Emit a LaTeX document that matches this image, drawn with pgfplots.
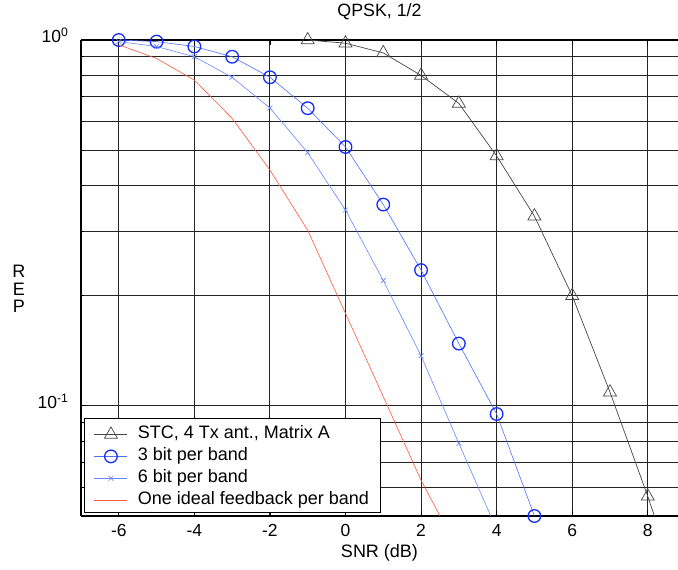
\documentclass[border=0pt]{standalone}
\usepackage{fontspec}
\setmainfont{Liberation Sans}
\usepackage{pgfplots}
\pgfplotsset{compat=1.18}
\definecolor{stc}{RGB}{70,70,70}
\definecolor{bitthree}{RGB}{20,45,255}
\definecolor{bitthreeline}{RGB}{80,110,255}
\definecolor{bitsix}{RGB}{105,135,255}
\definecolor{ideal}{RGB}{255,90,60}
\definecolor{gridc}{RGB}{35,35,35}
\begin{document}
\begin{tikzpicture}
\begin{axis}[
  name=ax,
  at={(0,0)}, anchor=south west,
  scale only axis, width=597pt, height=476pt,
  ymode=log, ymin=0.05, ymax=1,
  xmin=-7, xmax=8.8,
  axis x line=box, axis y line=left,
  y axis line style={-},
  axis line style={line width=1.2pt, black},
  xtick={-6,-4,-2,0,2,4,6,8},
  xticklabels={-6,-4,-2,0,2,4,6,8},
  ytick={0.1,1},
  yticklabels={10\textsuperscript{-1},10\textsuperscript{0}},
  minor ytick={0.05,0.06,0.07,0.08,0.09,0.2,0.3,0.4,0.5,0.6,0.7,0.8,0.9},
  grid=both,
  major grid style={gridc, line width=1pt},
  minor grid style={gridc, line width=1pt},
  tick align=inside,
  major tick length=5pt, minor tick length=3pt,
  tick style={black, line width=0.8pt},
  xticklabel style={font=\fontsize{17.5}{20}\selectfont, anchor=base, yshift=-21pt},
  yticklabel style={font=\fontsize{17.5}{20}\selectfont, anchor=base east, xshift=-9pt, yshift=-2.5pt},
  title={QPSK, 1/2},
  title style={font=\fontsize{17.8}{21}\selectfont, at={(axis description cs:0.5,1)}, anchor=base, yshift=17pt},
  xlabel={SNR (dB)},
  every axis x label/.style={font=\fontsize{18}{21}\selectfont, at={(axis description cs:0.5,0)}, anchor=base, yshift=-42pt},
  ylabel={R\\E\\P},
  every axis y label/.style={font=\fontsize{18}{17.5}\selectfont, align=center, at={(axis description cs:0,0.477)}, anchor=center, xshift=-62pt},
  clip mode=individual,
  legend image code/.code={\draw[mark indices={2}] plot coordinates {(0pt,-2pt) (16.5pt,-2pt) (33pt,-2pt)};},
  legend style={at={(axis description cs:0.005,0.006)}, anchor=south west, draw=black, line width=1.2pt, fill=white,
    font=\fontsize{18}{21}\selectfont, cells={anchor=west}, inner xsep=9.5pt, inner ysep=5pt, row sep=3.4pt, column sep=8pt},
  legend cell align=left,
]
\addplot[stc, line width=0.7pt, mark=triangle, mark size=7.5pt, mark indices={1,...,10}, mark options={line width=0.7pt, solid}]
  coordinates {(-1,1.0)(0,0.98)(1,0.922)(2,0.8)(3,0.671)(4,0.482)(5,0.33)(6,0.2)(7,0.109)(8,0.0566)(9,0.028)};
\addlegendentry{STC, 4 Tx ant., Matrix A}
\addplot[bitthreeline, line width=0.6pt, mark=o, mark size=6.3pt, mark options={bitthree, line width=1.3pt}]
  coordinates {(-6,1.0)(-5,0.99)(-4,0.96)(-3,0.9)(-2,0.791)(-1,0.651)(0,0.51)(1,0.355)(2,0.235)(3,0.148)(4,0.095)(5,0.05)};
\addlegendentry{3 bit per band}
\addplot[bitsix, line width=0.6pt, mark=x, mark size=3.5pt, mark indices={1,...,10}, mark options={line width=0.6pt}]
  coordinates {(-6,0.99)(-5,0.96)(-4,0.9)(-3,0.791)(-2,0.652)(-1,0.492)(0,0.343)(1,0.22)(2,0.137)(3,0.079)(4,0.046)};
\addlegendentry{6 bit per band}
\addplot[ideal, line width=0.6pt]
  coordinates {(-6,0.97)(-5,0.89)(-4,0.777)(-3,0.611)(-2,0.441)(-1,0.302)(0,0.179)(1,0.106)(2,0.0626)(3,0.04)};
\addlegendentry{One ideal feedback per band}
\end{axis}
\pgfresetboundingbox
\path[use as bounding box] ([xshift=-81pt,yshift=-54pt]ax.south west) rectangle ([yshift=40pt]ax.north east);
\end{tikzpicture}
\end{document}
